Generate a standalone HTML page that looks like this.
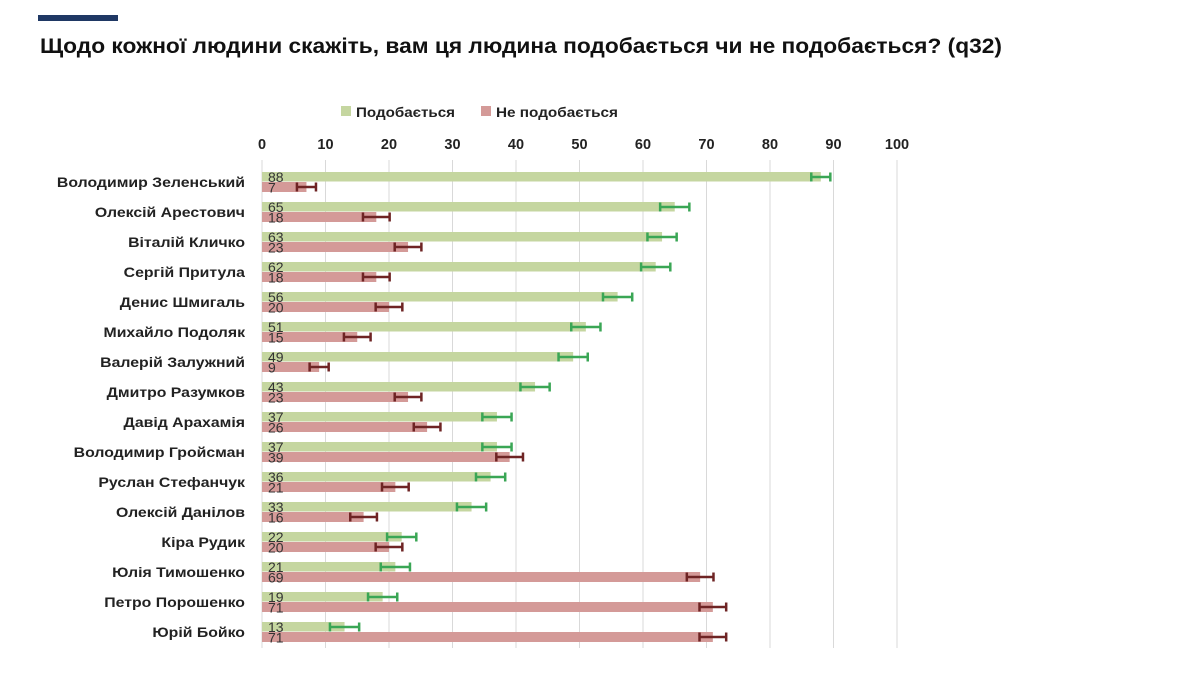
<!DOCTYPE html>
<html><head><meta charset="utf-8"><style>
body{margin:0;background:#fff;}
svg{display:block;font-family:"Liberation Sans","DejaVu Sans",sans-serif;}
</style></head><body>
<svg width="1200" height="686" xmlns="http://www.w3.org/2000/svg">
<rect x="38" y="15" width="80" height="6" fill="#1f3864"/>
<text x="40" y="53" font-size="21" font-weight="bold" fill="#111" textLength="962" lengthAdjust="spacingAndGlyphs">Щодо кожної людини скажіть, вам ця людина подобається чи не подобається? (q32)</text>
<rect x="341" y="106" width="10" height="10" fill="#c5d6a0"/>
<text x="356" y="117" font-size="14" font-weight="bold" fill="#222" textLength="99" lengthAdjust="spacingAndGlyphs">Подобається</text>
<rect x="481" y="106" width="10" height="10" fill="#d49a98"/>
<text x="496" y="117" font-size="14" font-weight="bold" fill="#222" textLength="122" lengthAdjust="spacingAndGlyphs">Не подобається</text>
<g id="grid"></g>
<g id="bars"></g>
<script>
const X0=262,S=6.35,ns="http://www.w3.org/2000/svg";
const g=document.getElementById('grid'),b=document.getElementById('bars');
function el(t,a,p,txt){const e=document.createElementNS(ns,t);for(const k in a)e.setAttribute(k,a[k]);if(txt!=null)e.textContent=txt;p.appendChild(e);return e;}
for(let i=0;i<=10;i++){const x=X0+i*10*S;
 el('line',{x1:x,y1:160,x2:x,y2:648,stroke:'#d9d9d9','stroke-width':1},g);
 el('text',{x:x,y:149,'font-size':14.5,'font-weight':'bold','text-anchor':'middle',fill:'#222'},g,String(i*10));}
const d=[["Володимир Зеленський",88,7],["Олексій Арестович",65,18],["Віталій Кличко",63,23],["Сергій Притула",62,18],["Денис Шмигаль",56,20],["Михайло Подоляк",51,15],["Валерій Залужний",49,9],["Дмитро Разумков",43,23],["Давід Арахамія",37,26],["Володимир Гройсман",37,39],["Руслан Стефанчук",36,21],["Олексій Данілов",33,16],["Кіра Рудик",22,20],["Юлія Тимошенко",21,69],["Петро Порошенко",19,71],["Юрій Бойко",13,71]];
function eb(v,e,y,c){const a=X0+(v-e)*S,z=X0+(v+e)*S;
 el('line',{x1:a,y1:y,x2:z,y2:y,stroke:c,'stroke-width':2.5},b);
 el('line',{x1:a,y1:y-4.5,x2:a,y2:y+4.5,stroke:c,'stroke-width':2.5},b);
 el('line',{x1:z,y1:y-4.5,x2:z,y2:y+4.5,stroke:c,'stroke-width':2.5},b);}
d.forEach((r,i)=>{const y=172+i*30;
 const t=el('text',{x:245,y:y+15,'font-size':14,'font-weight':'bold','text-anchor':'end',fill:'#222'},b,r[0]);
 const w=t.getComputedTextLength();t.setAttribute('textLength',w*1.13);t.setAttribute('lengthAdjust','spacingAndGlyphs');
 el('rect',{x:X0,y:y,width:r[1]*S,height:9.5,fill:'#c5d6a0'},b);
 el('rect',{x:X0,y:y+10,width:r[2]*S,height:10,fill:'#d49a98'},b);
 eb(r[1],r[1]>80?1.5:2.3,y+5,'#3aa655');
 eb(r[2],r[2]<12?1.5:2.1,y+15,'#6e2424');
 el('text',{x:268,y:y+10,'font-size':14,fill:'#333'},b,String(r[1]));
 el('text',{x:268,y:y+20.5,'font-size':14,fill:'#333'},b,String(r[2]));
});
</script>
</svg>
</body></html>
